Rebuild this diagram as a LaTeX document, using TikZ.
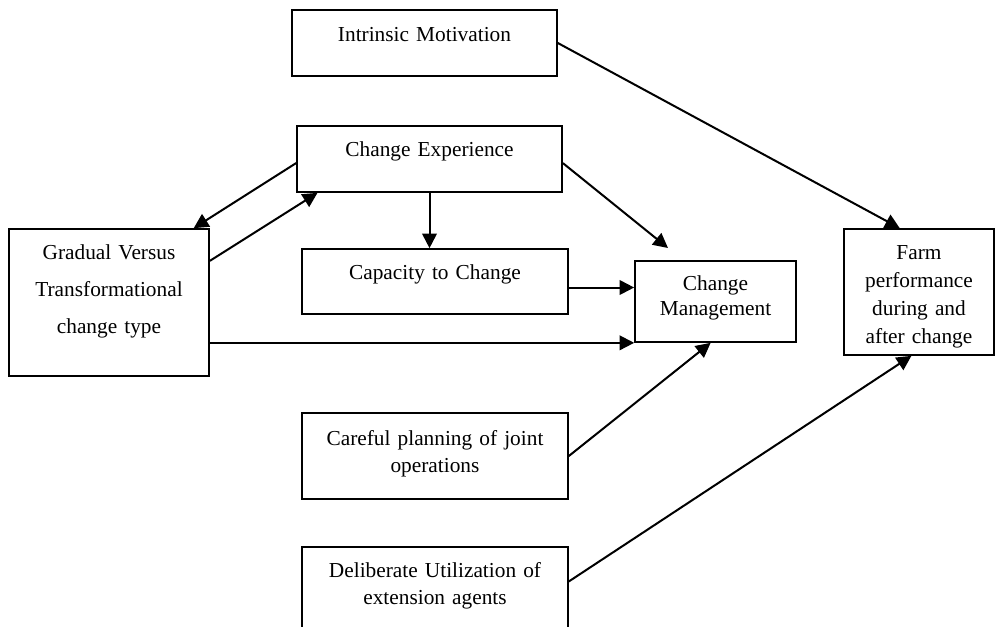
\documentclass[tikz,border=0pt]{standalone}
\usepackage{fontspec}
\setmainfont{Liberation Serif}
\usetikzlibrary{arrows.meta,calc}

\tikzset{every picture/.style={line width=0.75pt}}
\tikzset{
  box/.style={draw, line width=1.25pt, inner sep=0pt, align=center},
  conn/.style={line width=1.5pt, -{Triangle[length=11pt,width=11pt]}}
}

\begin{document}
\begin{tikzpicture}[x=0.75pt,y=0.75pt,yscale=-1,xscale=1]
	\useasboundingbox (0,0) rectangle (996,626);

	%Shape: Rectangle
	\node[box, text width=198.75pt, text height=23.25pt, text depth=26.25pt, font=\fontsize{16}{21}\selectfont] (im) at (424.5,43) {Intrinsic Motivation};
	%Shape: Rectangle
	\node[box, text width=198.75pt, text height=22.5pt, text depth=27pt, font=\fontsize{16}{21}\selectfont] (ce) at (429.5,159) {Change Experience};
	%Shape: Rectangle
	\node[box, text width=150pt, text height=22.5pt, text depth=87.75pt, font=\fontsize{16}{28}\selectfont] (gv) at (109,302.5) {Gradual Versus\\Transformational\\change type};
	%Shape: Rectangle
	\node[box, text width=199.5pt, text height=22.5pt, text depth=26.25pt, font=\fontsize{16}{21}\selectfont] (cap) at (435,281.5) {Capacity to Change};
	%Shape: Rectangle
	\node[box, text width=120.75pt, text height=22.3pt, text depth=38.45pt, font=\fontsize{16}{18.2}\selectfont] (cm) at (715.5,301.5) {Change\\Management};
	%Shape: Rectangle
	\node[box, text width=112.5pt, text height=22.5pt, text depth=72pt, font=\fontsize{16}{21}\selectfont] (fp) at (919,292) {Farm\\performance\\during and\\after change};
	%Shape: Rectangle
	\node[box, text width=199.5pt, text height=24pt, text depth=40.5pt, font=\fontsize{16}{20.8}\selectfont] (cp) at (435,456) {Careful planning of joint\\operations};
	%Shape: Rectangle
	\node[box, text width=199.5pt, text height=23pt, text depth=52pt, font=\fontsize{16}{20}\selectfont] (du) at (435,596.7) {Deliberate Utilization of\\extension agents};

	\coordinate (cmtop) at (668,248);
	\coordinate (capout) at ($(cap.north east)!0.59!(cap.south east)$);

	%Straight Lines
	\draw[conn] (im.east) -- ($(fp.north west)!0.373!(fp.north east)$);
	%Straight Lines
	\draw[conn] ($(ce.north west)!0.56!(ce.south west)$) -- ($(gv.north west)!0.92!(gv.north east)$);
	%Straight Lines
	\draw[conn] ($(gv.north east)!0.22!(gv.south east)$) -- ($(ce.south west)!0.08!(ce.south east)$);
	%Straight Lines
	\draw[conn] (ce.south) -- (ce.south |- cap.north);
	%Straight Lines
	\draw[conn] ($(ce.north east)!0.56!(ce.south east)$) -- (cmtop);
	%Straight Lines
	\draw[conn] (capout) -- (capout -| cm.west);
	%Straight Lines
	\draw[conn] (gv.east |- cm.south west) -- (cm.south west);
	%Straight Lines
	\draw[conn] (cp.east) -- ($(cm.south west)!0.47!(cm.south east)$);
	%Straight Lines
	\draw[conn] ($(du.north east)!0.35!(du.south east)$) -- ($(fp.south west)!0.45!(fp.south east)$);

\end{tikzpicture}
\end{document}
